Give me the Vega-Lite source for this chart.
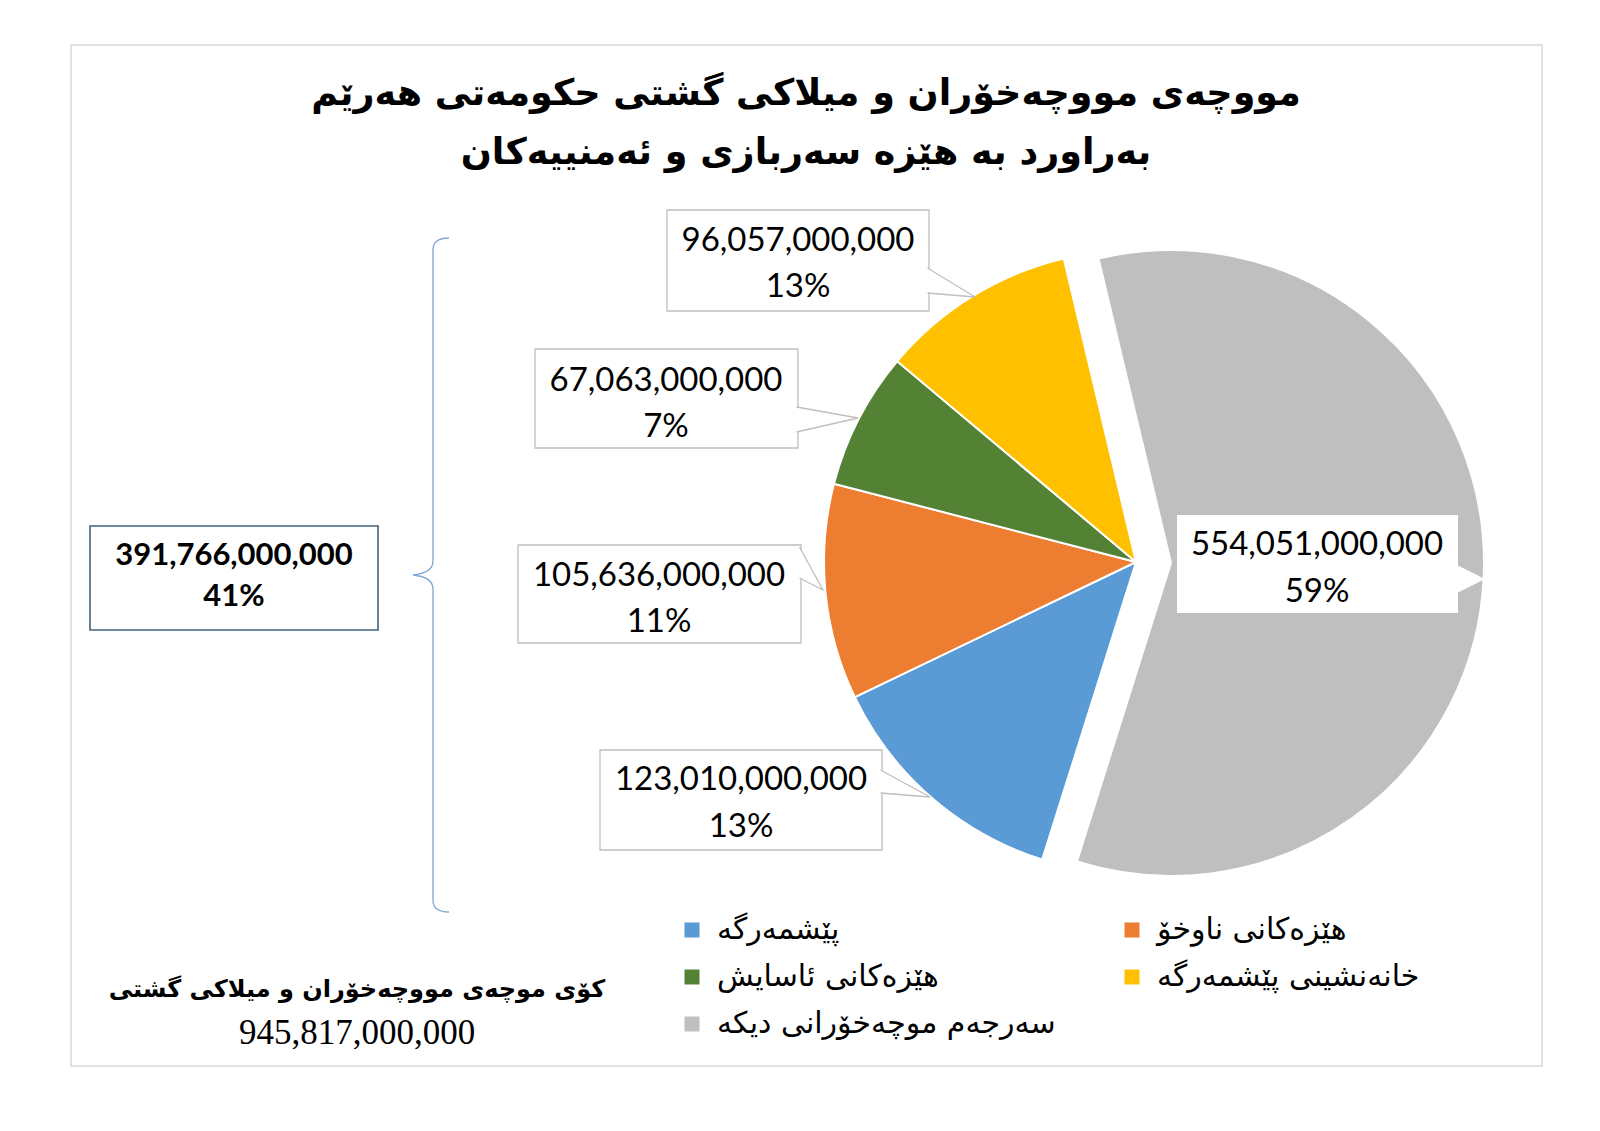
{
  "$schema": "https://vega.github.io/schema/vega-lite/v6.json",
  "width": 1471,
  "height": 1021,
  "autosize": {"type": "none"},
  "padding": {"left": 71, "top": 45, "right": 58, "bottom": 65},
  "background": "white",
  "config": {
    "view": {"stroke": null},
    "text": {"color": "#000000"}
  },
  "data": {
    "values": [
      {"idx": 1, "cat": "پێشمەرگە", "value": 123010000000, "pct": "13%"},
      {"idx": 2, "cat": "هێزەکانی ناوخۆ", "value": 105636000000, "pct": "11%"},
      {"idx": 3, "cat": "هێزەکانی ئاسایش", "value": 67063000000, "pct": "7%"},
      {"idx": 4, "cat": "خانەنشینی پێشمەرگە", "value": 96057000000, "pct": "13%"},
      {"idx": 5, "cat": "سەرجەم موچەخۆرانی دیکە", "value": 554051000000, "pct": "59%"}
    ]
  },
  "transform": [
    {"stack": "value", "groupby": [], "sort": [{"field": "idx", "order": "ascending"}], "as": ["v0", "v1"]}
  ],
  "resolve": {"scale": {"theta": "shared"}},
  "layer": [
    {"data": {"values": [{}]}, "mark": {"type": "rect", "x": 0, "y": 0, "x2": 1471, "y2": 1021, "fill": "white", "fillOpacity": 0, "stroke": "#d9d9d9", "strokeWidth": 1.5}, "encoding": {}},
    {
      "transform": [{"filter": "datum.idx < 5"}],
      "mark": {"type": "arc", "radius": 312, "stroke": "white", "strokeWidth": 2, "x": 1065, "y": 517},
      "encoding": {
        "theta": {"field": "v0", "type": "quantitative", "scale": {"domain": [0, 945817000000], "range": [3.447, 9.730], "nice": false}},
        "theta2": {"field": "v1"},
        "color": {
          "field": "cat",
          "type": "nominal",
          "scale": {
            "domain": ["پێشمەرگە", "هێزەکانی ناوخۆ", "هێزەکانی ئاسایش", "خانەنشینی پێشمەرگە", "سەرجەم موچەخۆرانی دیکە"],
            "range": ["#5b9bd5", "#ed7d31", "#548235", "#ffc000", "#bfbfbf"]
          },
          "legend": {
            "orient": "none",
            "legendX": 606,
            "legendY": 870,
            "direction": "horizontal",
            "columns": 2,
            "title": null,
            "padding": 0,
            "symbolType": "square",
            "symbolSize": 225,
            "symbolStrokeWidth": 0,
            "labelFont": "DejaVu Sans",
            "labelFontSize": 30,
            "labelColor": "#000000",
            "labelLimit": 600,
            "labelOffset": 10,
            "rowPadding": 17,
            "columnPadding": 61
          }
        }
      }
    },
    {
      "transform": [{"filter": "datum.idx == 5"}],
      "mark": {"type": "arc", "radius": 313, "stroke": "white", "strokeWidth": 2, "x": 1100, "y": 518},
      "encoding": {
        "theta": {"field": "v0", "type": "quantitative", "scale": {"domain": [0, 945817000000], "range": [3.447, 9.730], "nice": false}},
        "theta2": {"field": "v1"},
        "color": {"field": "cat", "type": "nominal"}
      }
    },

    {"data": {"values": [{}]}, "mark": {"type": "rect", "x": 596, "y": 165, "x2": 858, "y2": 266, "fill": "white", "stroke": "#bfbfbf", "strokeWidth": 1.3}, "encoding": {}},
    {"data": {"values": [{}]}, "mark": {"type": "point", "x": 858, "y": 235.5, "shape": "M-0.03,-0.25L0.92,0.33L-0.03,0.25", "size": 10000, "filled": false, "fill": "white", "fillOpacity": 1, "opacity": 1, "stroke": "#bfbfbf", "strokeWidth": 1.3}, "encoding": {}},
    {"transform": [{"filter": "datum.idx == 4"}], "mark": {"type": "text", "x": 727, "y": 196, "font": "Lato", "fontSize": 33, "align": "center", "baseline": "middle"}, "encoding": {"text": {"field": "value", "type": "quantitative", "format": ","}}},
    {"transform": [{"filter": "datum.idx == 4"}], "mark": {"type": "text", "x": 727, "y": 242, "font": "Lato", "fontSize": 33, "align": "center", "baseline": "middle"}, "encoding": {"text": {"field": "pct", "type": "nominal"}}},

    {"data": {"values": [{}]}, "mark": {"type": "rect", "x": 464, "y": 304, "x2": 727, "y2": 403, "fill": "white", "stroke": "#bfbfbf", "strokeWidth": 1.3}, "encoding": {}},
    {"data": {"values": [{}]}, "mark": {"type": "point", "x": 727, "y": 374.5, "shape": "M-0.03,-0.25L1.2,-0.03L-0.03,0.25", "size": 10000, "filled": false, "fill": "white", "fillOpacity": 1, "opacity": 1, "stroke": "#bfbfbf", "strokeWidth": 1.3}, "encoding": {}},
    {"transform": [{"filter": "datum.idx == 3"}], "mark": {"type": "text", "x": 595, "y": 336, "font": "Lato", "fontSize": 33, "align": "center", "baseline": "middle"}, "encoding": {"text": {"field": "value", "type": "quantitative", "format": ","}}},
    {"transform": [{"filter": "datum.idx == 3"}], "mark": {"type": "text", "x": 595, "y": 382, "font": "Lato", "fontSize": 33, "align": "center", "baseline": "middle"}, "encoding": {"text": {"field": "pct", "type": "nominal"}}},

    {"data": {"values": [{}]}, "mark": {"type": "rect", "x": 447, "y": 500, "x2": 730, "y2": 598, "fill": "white", "stroke": "#bfbfbf", "strokeWidth": 1.3}, "encoding": {}},
    {"data": {"values": [{}]}, "mark": {"type": "point", "x": 730, "y": 517.5, "shape": "M-0.03,-0.31L0.44,0.55L-0.03,0.31", "size": 10000, "filled": false, "fill": "white", "fillOpacity": 1, "opacity": 1, "stroke": "#bfbfbf", "strokeWidth": 1.3}, "encoding": {}},
    {"transform": [{"filter": "datum.idx == 2"}], "mark": {"type": "text", "x": 588, "y": 531, "font": "Lato", "fontSize": 33, "align": "center", "baseline": "middle"}, "encoding": {"text": {"field": "value", "type": "quantitative", "format": ","}}},
    {"transform": [{"filter": "datum.idx == 2"}], "mark": {"type": "text", "x": 588, "y": 577, "font": "Lato", "fontSize": 33, "align": "center", "baseline": "middle"}, "encoding": {"text": {"field": "pct", "type": "nominal"}}},

    {"data": {"values": [{}]}, "mark": {"type": "rect", "x": 529, "y": 705, "x2": 811, "y2": 805, "fill": "white", "stroke": "#bfbfbf", "strokeWidth": 1.3}, "encoding": {}},
    {"data": {"values": [{}]}, "mark": {"type": "point", "x": 811, "y": 736.5, "shape": "M-0.03,-0.23L0.96,0.31L-0.03,0.23", "size": 10000, "filled": false, "fill": "white", "fillOpacity": 1, "opacity": 1, "stroke": "#bfbfbf", "strokeWidth": 1.3}, "encoding": {}},
    {"transform": [{"filter": "datum.idx == 1"}], "mark": {"type": "text", "x": 670, "y": 735, "font": "Lato", "fontSize": 33, "align": "center", "baseline": "middle"}, "encoding": {"text": {"field": "value", "type": "quantitative", "format": ","}}},
    {"transform": [{"filter": "datum.idx == 1"}], "mark": {"type": "text", "x": 670, "y": 782, "font": "Lato", "fontSize": 33, "align": "center", "baseline": "middle"}, "encoding": {"text": {"field": "pct", "type": "nominal"}}},

    {"data": {"values": [{}]}, "mark": {"type": "rect", "x": 1106, "y": 470, "x2": 1387, "y2": 568, "fill": "white", "strokeWidth": 0}, "encoding": {}},
    {"data": {"values": [{}]}, "mark": {"type": "point", "x": 1400, "y": 534, "shape": "M-1,-1L1,0L-1,1Z", "size": 784, "filled": true, "fill": "white", "opacity": 1, "strokeWidth": 0}, "encoding": {}},
    {"transform": [{"filter": "datum.idx == 5"}], "mark": {"type": "text", "x": 1246, "y": 500, "font": "Lato", "fontSize": 33, "align": "center", "baseline": "middle"}, "encoding": {"text": {"field": "value", "type": "quantitative", "format": ","}}},
    {"transform": [{"filter": "datum.idx == 5"}], "mark": {"type": "text", "x": 1246, "y": 547, "font": "Lato", "fontSize": 33, "align": "center", "baseline": "middle"}, "encoding": {"text": {"field": "pct", "type": "nominal"}}},

    {"data": {"values": [{}]}, "mark": {"type": "point", "x": 362, "y": 530, "shape": "M0.32,-6.74Q0,-6.74 0,-6.5L0,-0.28Q0,-0.04 -0.4,0Q0,0.04 0,0.28L0,6.5Q0,6.74 0.32,6.74", "size": 10000, "filled": false, "opacity": 1, "stroke": "#7ea6d3", "strokeWidth": 1.3}, "encoding": {}},

    {"data": {"values": [{}]}, "mark": {"type": "rect", "x": 19, "y": 481, "x2": 307, "y2": 585, "fill": "white", "stroke": "#44617b", "strokeWidth": 1.6}, "encoding": {}},
    {
      "transform": [{"filter": "datum.idx < 5"}, {"aggregate": [{"op": "sum", "field": "value", "as": "forces"}]}],
      "mark": {"type": "text", "x": 163, "y": 511, "font": "Lato", "fontSize": 31, "fontWeight": "bold", "align": "center", "baseline": "middle"},
      "encoding": {"text": {"field": "forces", "type": "quantitative", "format": ","}}
    },
    {"data": {"values": [{}]}, "mark": {"type": "text", "x": 163, "y": 552, "text": "41%", "font": "Lato", "fontSize": 31, "fontWeight": "bold", "align": "center", "baseline": "middle"}, "encoding": {}},

    {"data": {"values": [{}]}, "mark": {"type": "text", "x": 286, "y": 945, "text": "کۆی موچەی مووچەخۆران و میلاکی گشتی", "font": "DejaVu Sans", "fontSize": 24, "fontWeight": "bold", "align": "center", "baseline": "middle"}, "encoding": {}},
    {
      "transform": [{"aggregate": [{"op": "sum", "field": "value", "as": "total"}]}],
      "mark": {"type": "text", "x": 286, "y": 988, "font": "Liberation Serif", "fontSize": 35, "align": "center", "baseline": "middle"},
      "encoding": {"text": {"field": "total", "type": "quantitative", "format": ","}}
    },

    {"data": {"values": [{}]}, "mark": {"type": "text", "x": 735, "y": 49, "text": ["مووچەی مووچەخۆران و میلاکی گشتی حکومەتی هەرێم", "بەراورد بە هێزە سەربازی و ئەمنییەکان"], "lineHeight": 59, "font": "DejaVu Sans", "fontSize": 36.5, "fontWeight": "bold", "align": "center", "baseline": "middle"}, "encoding": {}}
  ]
}
